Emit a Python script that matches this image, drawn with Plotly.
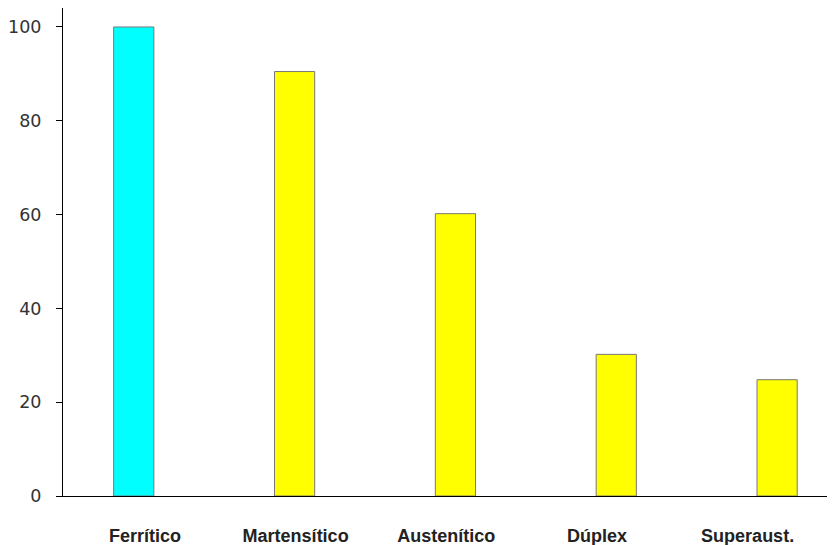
import plotly.graph_objects as go

categories = ["Ferrítico", "Martensítico", "Austenítico", "Dúplex", "Superaust."]
values = [100, 90.5, 60.2, 30.2, 24.8]
colors = ["#00ffff", "#ffff00", "#ffff00", "#ffff00", "#ffff00"]

fig = go.Figure()
fig.add_trace(go.Bar(
    x=categories, y=values,
    width=0.25,
    marker=dict(color=colors, line=dict(color="#777777", width=1)),
))
# the category labels in the original sit on their own, slightly narrower spacing
fig.add_trace(go.Scatter(
    x=categories, y=values, xaxis="x2",
    mode="markers", marker=dict(opacity=0), hoverinfo="skip",
))

# page has an 8px body margin, so margins are shifted to compensate
fig.update_layout(
    width=835, height=545,
    margin=dict(l=55, r=8, t=0, b=57, autoexpand=False),
    plot_bgcolor="white", paper_bgcolor="white",
    showlegend=False,
    xaxis=dict(
        range=[-0.44, 4.36],
        showline=True, linecolor="black", linewidth=1,
        ticks="", showgrid=False, showticklabels=False,
        automargin=False,
    ),
    xaxis2=dict(
        overlaying="x", side="bottom",
        range=[-0.544, 4.58],
        showline=False, ticks="", showgrid=False,
        tickfont=dict(family="Liberation Sans", size=18, color="#222222", weight="bold"),
        ticklabelstandoff=27,
        automargin=False,
    ),
    yaxis=dict(
        range=[0, 104.05],
        showline=True, linecolor="black", linewidth=1,
        ticks="outside", ticklen=6, tickcolor="black",
        tickvals=[0, 20, 40, 60, 80, 100],
        showgrid=False, zeroline=False,
        tickfont=dict(family="DejaVu Sans", size=17.5, color="#333333"),
        ticklabelstandoff=11,
        automargin=False,
    ),
)

fig.write_html("out.html")
